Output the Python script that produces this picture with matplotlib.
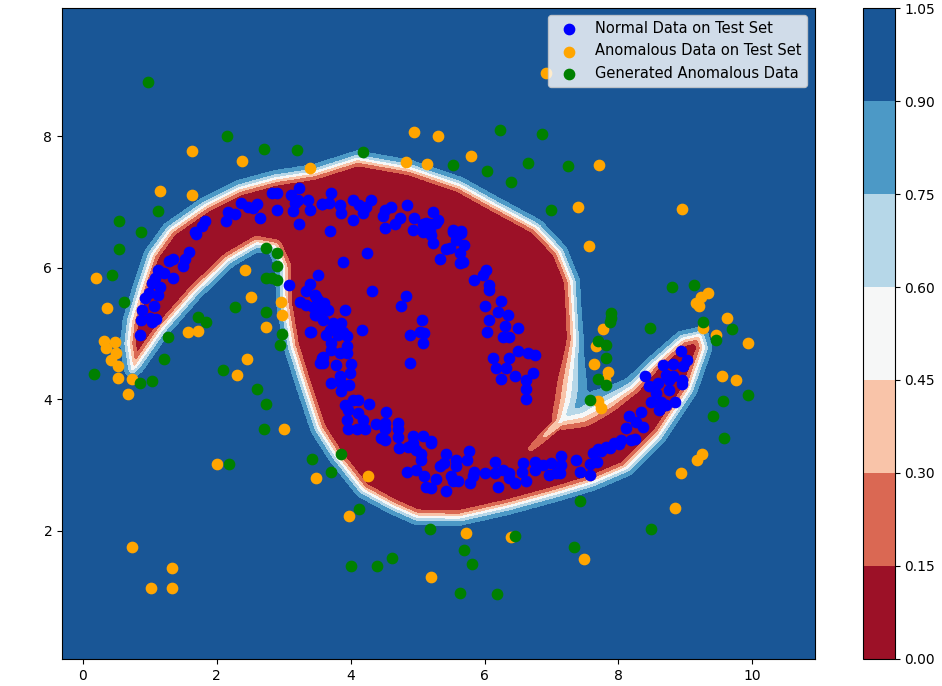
import numpy as np
import matplotlib
matplotlib.use("Agg")
import matplotlib.pyplot as plt
from matplotlib.path import Path

# outline of the region the model scores as normal (the ~0.5 contour)
outline = [
    (0.74, 4.45), (0.68, 4.85), (0.72, 5.20), (0.87, 5.71), (1.03, 6.20), (1.30, 6.58),
    (1.82, 6.95), (2.33, 7.21), (2.87, 7.36), (3.45, 7.45), (4.10, 7.66), (4.88, 7.52),
    (5.63, 7.26), (6.18, 6.95), (6.78, 6.62), (7.12, 6.25), (7.30, 5.80), (7.35, 4.90),
    (7.24, 4.00), (7.16, 3.69), (7.46, 3.75), (7.87, 3.97), (8.21, 4.20), (8.50, 4.52),
    (8.95, 4.92), (9.22, 4.98), (9.28, 4.78), (9.06, 4.14), (8.61, 3.45), (8.12, 2.95),
    (7.61, 2.73), (7.12, 2.58), (6.37, 2.37), (5.63, 2.20), (4.99, 2.21), (4.63, 2.37),
    (4.18, 2.62), (3.79, 3.12), (3.52, 3.55), (3.31, 4.19), (3.12, 4.80), (3.01, 5.47),
    (3.00, 6.02), (2.87, 6.32), (2.60, 6.37), (2.18, 6.12), (1.67, 5.62), (1.18, 5.05),
    (0.80, 4.50),
]
# faint crease running from the notch tip into the body: (x, y, score)
crease = [(7.16, 3.69, 0.50), (6.67, 3.23, 0.17)]
# spot where the score changes slowly: (x, y, radius, extra softness)
soft_spot = (7.45, 4.05, 0.55, 0.07)

normal_pts = [
    # upper-left arm
    (3.23, 7.21), (2.82, 7.14), (2.90, 7.14), (3.11, 7.10), (3.22, 7.03), (3.37, 7.03),
    (3.17, 6.98), (2.37, 6.98), (2.60, 6.97), (2.47, 6.92), (2.55, 6.91), (2.90, 6.88),
    (3.14, 6.86), (3.39, 6.88), (3.57, 6.97), (2.17, 6.85), (2.27, 6.82), (2.64, 6.75),
    (1.83, 6.71), (2.14, 6.71), (1.78, 6.63), (3.23, 6.66), (1.68, 6.54), (1.69, 6.52),
    (1.59, 6.24), (1.53, 6.14), (1.35, 6.14), (1.29, 6.11), (1.49, 6.03), (1.13, 5.97),
    (1.22, 5.92), (1.35, 5.84), (1.08, 5.84), (1.03, 5.77), (1.15, 5.71), (0.99, 5.62),
    (1.13, 5.59), (0.93, 5.54), (1.07, 5.42), (0.89, 5.35), (1.00, 5.23), (1.10, 5.22),
    (0.87, 5.21), (1.03, 5.18), (0.86, 4.98),
    # top of the big body
    (3.71, 7.14), (3.58, 6.97), (3.68, 6.99), (3.84, 6.96), (3.85, 6.83), (4.03, 7.03),
    (4.13, 6.96), (4.31, 7.03), (4.23, 6.92), (4.18, 6.83), (4.03, 6.73), (4.51, 6.88),
    (4.61, 6.92), (4.48, 6.78), (4.74, 6.76), (4.66, 6.67), (4.51, 6.60), (4.84, 6.96),
    (4.94, 6.76), (5.23, 6.85), (5.30, 6.72), (5.18, 6.67), (5.08, 6.67), (5.53, 6.58),
    (5.65, 6.56), (3.69, 6.56), (4.93, 6.57), (5.08, 6.55), (5.18, 6.57), (5.13, 6.68),
    (5.28, 6.68), (5.20, 6.50), (5.23, 6.37), (5.53, 6.55), (5.65, 6.53), (5.58, 6.42),
    (5.70, 6.35), (5.43, 6.28), (5.48, 6.30), (5.33, 6.13), (5.63, 6.22), (5.63, 6.07),
    (5.68, 6.09),
    # inner arc, left side
    (3.08, 5.74), (3.52, 5.89), (3.39, 5.76), (3.34, 5.64), (3.47, 5.59), (3.52, 5.51),
    (3.24, 5.48), (3.34, 5.43), (3.47, 5.28), (3.39, 5.03), (3.57, 4.62), (3.54, 4.55),
    (4.24, 6.22), (3.88, 6.09), (4.32, 5.65), (3.91, 5.36), (4.17, 5.05),
    (3.49, 5.56), (3.61, 5.46), (3.44, 5.41), (3.54, 5.36), (3.66, 5.36), (3.49, 5.28),
    (3.59, 5.21), (3.74, 5.16), (3.86, 5.16), (3.79, 5.11), (3.69, 5.05), (3.89, 5.03),
    (3.81, 4.98), (3.64, 4.98), (3.94, 4.96), (3.41, 5.03),
    (3.71, 4.85), (3.71, 4.75), (3.94, 4.81), (3.94, 4.70), (3.84, 4.70), (3.59, 4.65),
    (3.59, 4.55), (3.78, 4.52), (4.01, 4.54), (3.99, 4.40), (3.84, 4.35), (3.71, 4.24),
    (3.86, 4.24), (3.97, 4.22), (3.86, 4.12),
    (3.91, 3.92), (4.03, 3.99), (4.11, 3.99), (4.28, 3.93), (3.96, 3.84), (4.11, 3.79),
    (4.18, 3.69), (3.94, 3.69), (4.09, 3.54), (3.96, 3.54), (4.21, 3.55), (4.38, 3.63),
    (4.53, 3.80), (4.51, 3.64), (4.51, 3.54), (4.46, 3.41), (4.71, 3.64), (4.71, 3.54),
    (4.71, 3.43), (4.93, 3.44), (5.08, 3.44), (5.20, 3.36),
    # middle
    (4.82, 5.57), (4.76, 5.42), (5.06, 5.21), (4.88, 4.98), (5.03, 5.03), (5.10, 5.00),
    (5.08, 4.86), (4.88, 4.55),
    # inner arc, right side
    (6.02, 5.97), (5.97, 5.89), (5.85, 5.81), (6.06, 5.74), (6.07, 5.66), (6.25, 5.49),
    (6.01, 5.42), (6.20, 5.32), (6.35, 5.28), (6.07, 5.21), (6.03, 5.03), (6.31, 5.11),
    (6.50, 5.08), (6.27, 4.95), (6.37, 4.95), (6.12, 4.63), (6.37, 4.63), (6.50, 4.74),
    (6.65, 4.70), (6.75, 4.67), (6.17, 4.47), (6.32, 4.47), (6.45, 4.36), (6.25, 4.31),
    (6.72, 4.40), (6.62, 4.29), (6.62, 4.15), (6.62, 4.00),
    # lower arm
    (4.51, 3.38), (4.72, 3.26), (4.86, 3.28), (4.93, 3.33), (4.98, 3.23), (5.05, 3.16),
    (5.05, 3.07), (5.20, 3.33), (5.43, 3.16), (5.58, 3.08), (5.77, 3.21), (5.74, 3.08),
    (5.34, 2.99), (5.40, 3.03), (4.84, 2.90), (4.98, 2.93), (5.10, 2.84), (5.28, 2.79),
    (5.13, 2.67), (5.20, 2.65), (5.43, 2.60), (5.50, 2.83), (5.60, 2.75), (5.53, 2.75),
    (5.58, 2.98), (5.79, 2.72), (5.83, 2.83), (5.85, 2.90), (6.00, 2.88), (6.15, 3.05),
    (6.16, 2.88), (6.20, 2.67), (6.27, 2.93), (6.37, 2.88), (6.37, 2.80), (6.45, 2.73),
    (6.56, 2.90), (6.62, 2.76), (6.57, 3.03), (6.75, 3.05), (6.75, 2.93), (6.87, 3.00),
    (6.97, 2.85), (6.99, 3.03), (7.07, 2.88), (7.14, 3.13), (7.14, 3.00), (7.12, 2.88),
    (7.37, 3.07), (7.42, 2.90), (7.57, 3.02), (7.57, 2.85), (7.68, 3.05), (7.62, 3.18),
    (7.74, 3.22), (7.87, 3.26), (8.01, 3.32), (8.19, 3.38),
    # lower-right arm
    (8.93, 4.74), (9.03, 4.59), (8.96, 4.50), (8.81, 4.54), (8.66, 4.52), (8.39, 4.35),
    (8.71, 4.37), (8.81, 4.35), (8.76, 4.30), (8.95, 4.30), (8.95, 4.23), (8.46, 4.20),
    (8.59, 4.24), (8.56, 4.09), (8.76, 4.14), (8.85, 3.96), (8.49, 3.96), (8.64, 3.96),
    (8.60, 3.83), (8.71, 3.91), (8.16, 3.75), (8.34, 3.81), (8.26, 3.66), (8.36, 3.58),
    (8.11, 3.56), (8.24, 3.40), (8.04, 3.38), (7.94, 3.33), (7.81, 3.28), (7.69, 3.24),
]

anomalous_pts = [
    (1.63, 7.77), (2.38, 7.62), (3.40, 7.52), (1.16, 7.17), (1.63, 7.11),
    (0.20, 5.84), (0.36, 5.39), (0.32, 4.89), (0.48, 4.87), (0.34, 4.78), (0.50, 4.70),
    (0.42, 4.60), (0.52, 4.50), (0.53, 4.33), (0.74, 4.31), (0.68, 4.08),
    (2.43, 5.97), (2.52, 5.56), (1.57, 5.03), (1.72, 5.04), (2.96, 5.48), (2.97, 5.28),
    (2.73, 5.10), (2.46, 4.61), (2.31, 4.37), (3.01, 3.55),
    (2.00, 3.01), (3.48, 2.80), (0.74, 1.75), (1.33, 1.43), (1.02, 1.13), (1.33, 1.13),
    (4.26, 2.83), (3.97, 2.23), (5.73, 1.97), (5.20, 1.30), (6.39, 1.90),
    (4.94, 8.06), (5.30, 8.00), (5.80, 7.70), (4.82, 7.61), (5.14, 7.58), (6.92, 8.96),
    (7.71, 7.57), (7.40, 6.92), (8.95, 6.89), (7.56, 6.33),
    (9.33, 5.62), (9.23, 5.55), (9.16, 5.46), (9.20, 5.42), (9.62, 5.23), (9.26, 5.08),
    (9.46, 4.98), (9.93, 4.86), (9.55, 4.35), (9.76, 4.30),
    (7.77, 5.07), (7.67, 4.81), (7.64, 4.54), (7.84, 4.41), (7.80, 4.30), (7.69, 3.97),
    (7.74, 3.86), (7.49, 1.57), (8.85, 2.35), (8.93, 2.88), (9.18, 3.08), (9.25, 3.17),
]

generated_pts = [
    (0.97, 8.83), (2.15, 8.01), (2.71, 7.80), (3.20, 7.79), (1.13, 6.87), (0.54, 6.71),
    (0.87, 6.54), (0.54, 6.29), (0.44, 5.89), (0.62, 5.48), (0.17, 4.38), (0.85, 4.24),
    (1.04, 4.27), (1.28, 4.95), (1.21, 4.61), (1.72, 5.25), (1.84, 5.18), (2.28, 5.41),
    (2.10, 4.45), (2.73, 6.30), (2.90, 6.22), (2.90, 6.02), (2.73, 5.84), (2.82, 5.84),
    (2.90, 5.81), (2.73, 5.33), (2.98, 4.99), (2.94, 4.82), (2.60, 4.15), (2.73, 3.93),
    (2.71, 3.55), (2.19, 3.01), (3.43, 3.09), (3.85, 3.16), (3.71, 2.89), (4.12, 2.33),
    (4.01, 1.47), (4.40, 1.47), (4.62, 1.59), (5.18, 2.03), (5.70, 1.70), (5.82, 1.49),
    (5.63, 1.06), (6.19, 1.04), (6.45, 1.92),
    (4.19, 7.76), (6.23, 8.09), (6.86, 8.03), (5.53, 7.57), (6.03, 7.47), (6.65, 7.59),
    (6.39, 7.30), (7.25, 7.54), (7.00, 6.88),
    (8.80, 5.71), (9.13, 5.74), (9.26, 5.17), (9.69, 5.07), (9.46, 4.90), (8.47, 5.09),
    (9.94, 4.06), (9.56, 3.98), (9.41, 3.74), (9.57, 3.41),
    (7.89, 5.31), (7.89, 5.23), (7.88, 5.18), (7.69, 4.89), (7.82, 4.83), (7.81, 4.63),
    (7.70, 4.31), (7.82, 4.21), (7.57, 3.99), (7.43, 2.46), (8.49, 2.03), (7.33, 1.76),
]

levels = [0.0, 0.15, 0.30, 0.45, 0.60, 0.75, 0.90, 1.05]
x_range = (-0.31, 10.93)
y_range = (0.05, 9.95)


def seg_dist(pts, p0, p1):
    seg = p1 - p0
    t = np.clip(((pts - p0) @ seg) / (seg @ seg), 0, 1)
    proj = p0 + t[:, None] * seg
    return np.hypot(*(pts - proj).T), t


def signed_distance(pts, verts):
    a = np.array(verts)
    b = np.roll(a, -1, axis=0)
    d = np.full(len(pts), np.inf)
    for p0, p1 in zip(a, b):
        d = np.minimum(d, seg_dist(pts, p0, p1)[0])
    inside = Path(a).contains_points(pts)
    return np.where(inside, -d, d)


xx, yy = np.meshgrid(np.arange(x_range[0], x_range[1] + 0.04, 0.04),
                     np.arange(y_range[0], y_range[1] + 0.04, 0.04))
pts = np.column_stack([xx.ravel(), yy.ravel()])

sx, sy, sr, extra = soft_spot
softness = 0.06 + extra * np.exp(-((pts[:, 0] - sx) ** 2 + (pts[:, 1] - sy) ** 2) / sr ** 2)
score = 1.0 / (1.0 + np.exp(-signed_distance(pts, outline) / softness))

(cx0, cy0, v0), (cx1, cy1, v1) = crease
cd, ct = seg_dist(pts, np.array([cx0, cy0]), np.array([cx1, cy1]))
score = np.maximum(score, (v0 + (v1 - v0) * ct) * np.exp(-(cd / 0.07) ** 2))
score = score.reshape(xx.shape)

fig = plt.figure(figsize=(9.42, 6.86), dpi=100)
ax = fig.add_axes([0.0658, 0.0394, 0.799, 0.9489])
cax = fig.add_axes([0.916, 0.0394, 0.034, 0.9489])

cs = ax.contourf(xx, yy, score, levels=levels, cmap="RdBu")
fig.colorbar(cs, cax=cax)

nx, ny = zip(*normal_pts)
axx, axy = zip(*anomalous_pts)
gx, gy = zip(*generated_pts)
ax.scatter(nx, ny, c="blue", s=55, label="Normal Data on Test Set")
ax.scatter(axx, axy, c="orange", s=55, label="Anomalous Data on Test Set")
ax.scatter(gx, gy, c="green", s=55, label="Generated Anomalous Data")

ax.set_xlim(*x_range)
ax.set_ylim(*y_range)
ax.legend(loc="upper right", fontsize=10.5)

fig.savefig("out.png", dpi=100)
